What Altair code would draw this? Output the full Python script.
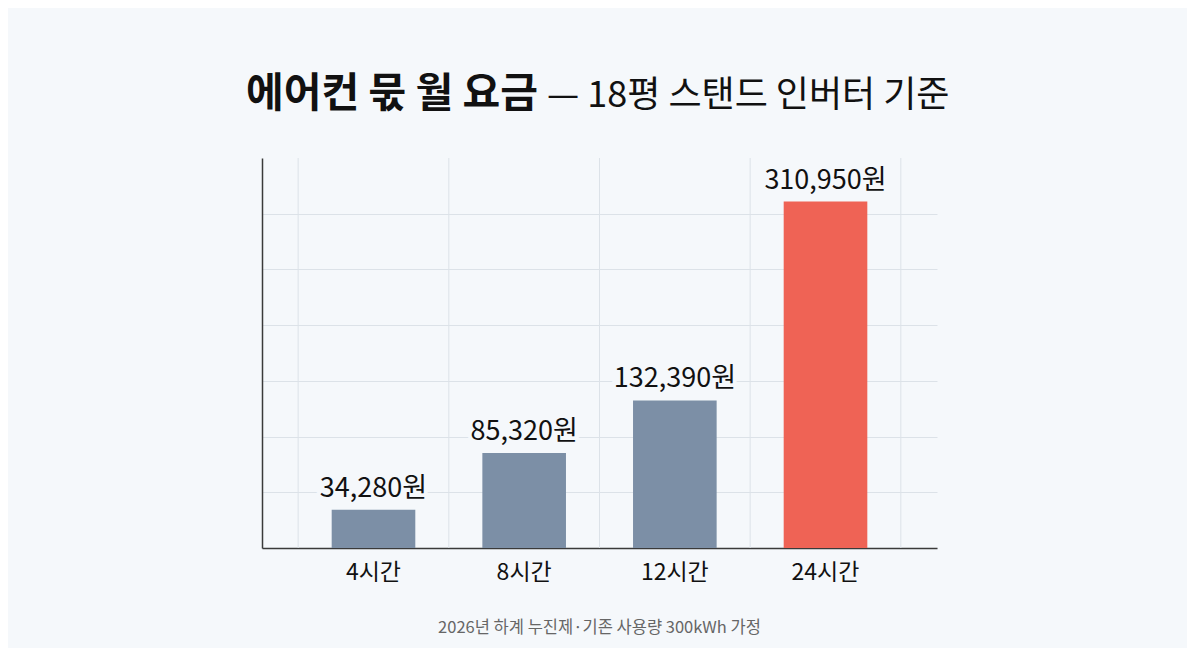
import altair as alt
import pandas as pd

categories = ["4시간", "8시간", "12시간", "24시간"]
values = [34280, 85320, 132390, 310950]
labels = ["34,280원", "85,320원", "132,390원", "310,950원"]
highlight = [False, False, False, True]

title_bold = "에어컨 묷 월 요금"
title_rest = "— 18평 스탠드 인버터 기준"
footnote = "2026년 하계 누진제·기존 사용량 300kWh 가정"

BG = "#f5f8fb"
FONT = "Noto Sans CJK KR"
GRID = "#dce2e8"

df = pd.DataFrame({"cat": categories, "val": values, "label": labels, "hl": highlight})

x_scale = alt.Scale(domain=categories, paddingInner=0, paddingOuter=0.24)
y_scale = alt.Scale(domain=[0, 350000], nice=False)

base = alt.Chart(df)

x_axis = alt.Axis(title=None, labelFont=FONT, labelFontSize=23,
                  labelColor="#111111", labelPadding=13, ticks=False,
                  domain=True, domainColor="#3a3a3a", domainWidth=1.5,
                  grid=False, labelAngle=0)
y_axis = alt.Axis(title=None, labels=False, ticks=False,
                  values=[0, 50000, 100000, 150000, 200000, 250000, 300000],
                  grid=True, gridColor=GRID, gridWidth=1,
                  domain=True, domainColor="#3a3a3a", domainWidth=1.5)

bars = base.mark_bar(width=alt.RelativeBandSize(0.555)).encode(
    x=alt.X("cat:N", scale=x_scale, sort=categories, axis=x_axis),
    y=alt.Y("val:Q", scale=y_scale, axis=y_axis),
    color=alt.Color("hl:N", scale=alt.Scale(domain=[False, True],
                                             range=["#7c8fa6", "#ef6355"]), legend=None),
)

vgrid = base.mark_rule(color=GRID, strokeWidth=1).encode(
    x=alt.X("cat:N", scale=x_scale, sort=categories, bandPosition=0),
    y=alt.value(0), y2=alt.value(390),
)
vgrid_end = base.transform_filter(alt.datum.cat == categories[-1]).mark_rule(
    color=GRID, strokeWidth=1
).encode(
    x=alt.X("cat:N", scale=x_scale, sort=categories, bandPosition=1),
    y=alt.value(0), y2=alt.value(390),
)

halo = base.mark_text(font=FONT, fontSize=27, color=BG, baseline="alphabetic",
                      dy=-13, stroke=BG, strokeWidth=8).encode(
    x=alt.X("cat:N", scale=x_scale, sort=categories, bandPosition=0.5),
    y=alt.Y("val:Q", scale=y_scale),
    text="label:N",
)
text = base.mark_text(font=FONT, fontSize=27, color="#111111", baseline="alphabetic",
                      dy=-13).encode(
    x=alt.X("cat:N", scale=x_scale, sort=categories, bandPosition=0.5),
    y=alt.Y("val:Q", scale=y_scale),
    text="label:N",
)

tdf = pd.DataFrame({"t1": [title_bold], "t2": [title_rest], "f": [footnote]})
tbase = alt.Chart(tdf)
t1 = tbase.mark_text(font=FONT, fontSize=41, fontWeight="bold", color="#111111",
                     align="right", baseline="middle").encode(
    x=alt.value(276), y=alt.value(-63), text="t1:N")
t2 = tbase.mark_text(font=FONT, fontSize=36, fontWeight="normal", color="#111111",
                     align="left", baseline="middle").encode(
    x=alt.value(285), y=alt.value(-62), text="t2:N")
fn = tbase.mark_text(font=FONT, fontSize=16.5, color="#666666",
                     align="center", baseline="middle").encode(
    x=alt.value(337.5), y=alt.value(470), text="f:N")

chart = alt.layer(bars, vgrid, vgrid_end, halo, text, t1, t2, fn).properties(
    width=675, height=390,
    background=BG,
    padding={"left": 254, "top": 150, "right": 250, "bottom": 100},
    autosize=alt.AutoSizeParams(type="none"),
).configure_view(stroke=None)

chart.save("out.html", embed_options={"renderer": "svg", "actions": False})
